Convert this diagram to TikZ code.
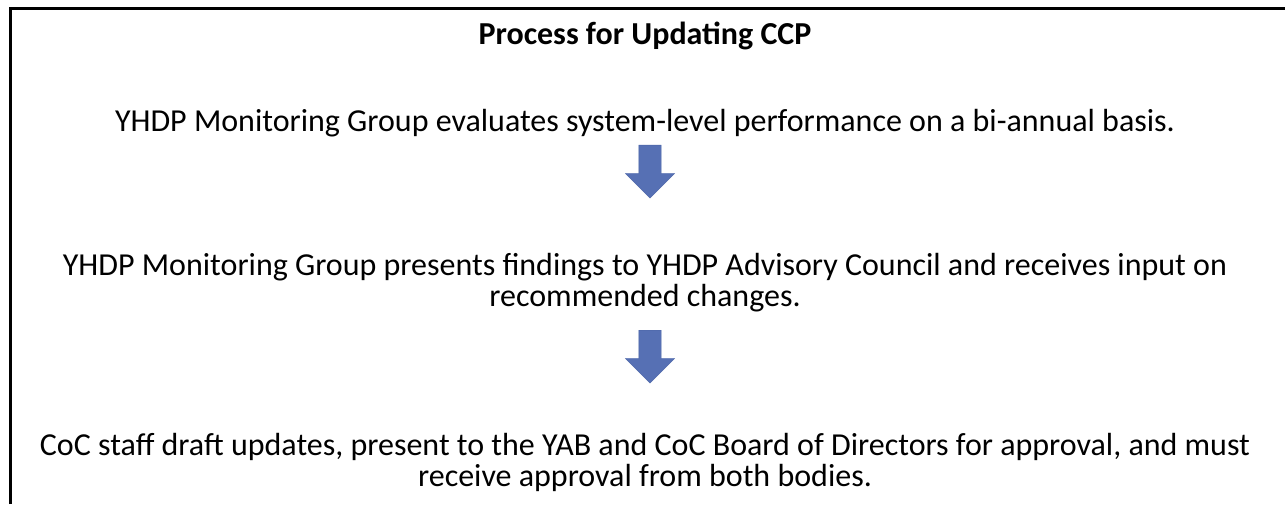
\documentclass[tikz,border=0pt]{standalone}
\usepackage{fontspec}
\setmainfont{Carlito}
\usetikzlibrary{shapes.arrows}

\definecolor{arrowblue}{RGB}{86,112,180}
\definecolor{arrowline}{RGB}{72,98,165}

\begin{document}
\begin{tikzpicture}[x=1pt, y=1pt,
		every node/.style={inner sep=0pt, align=center, font=\fontsize{32}{31}\selectfont},
		downarrow/.style={single arrow, rotate=-90, anchor=tail, fill=arrowblue, draw=arrowline, line width=0.4pt,
			inner sep=11pt, single arrow head extend=13.5pt, single arrow tip angle=90,
			minimum height=53pt, font=\tiny}]
		% \draw[help lines, step=50] (0,0) grid (1285,504);
		\useasboundingbox (0,0) rectangle (1285,504);
		\draw[line width=2.6pt] (10.3,0) -- (10.3,495.5) -- (1285,495.5);

		\node[anchor=base, font=\fontsize{32}{31}\selectfont\bfseries] (title) at (645,459) {Process for Updating CCP};

		\node[anchor=base] (s1) at (645,372) {YHDP Monitoring Group evaluates system-level performance on a bi-annual basis.};
		\node[anchor=base] (s2) at (645,198) {YHDP Monitoring Group presents findings to YHDP Advisory Council and receives input on\\recommended changes.};
		\node[anchor=base] (s3) at (645,18) {CoC staff draft updates, present to the YAB and CoC Board of Directors for approval, and must\\receive approval from both bodies.};

		\node[downarrow] (a1) at (650,359) {};
		\node[downarrow] (a2) at (650,174) {};
	\end{tikzpicture}
\end{document}
